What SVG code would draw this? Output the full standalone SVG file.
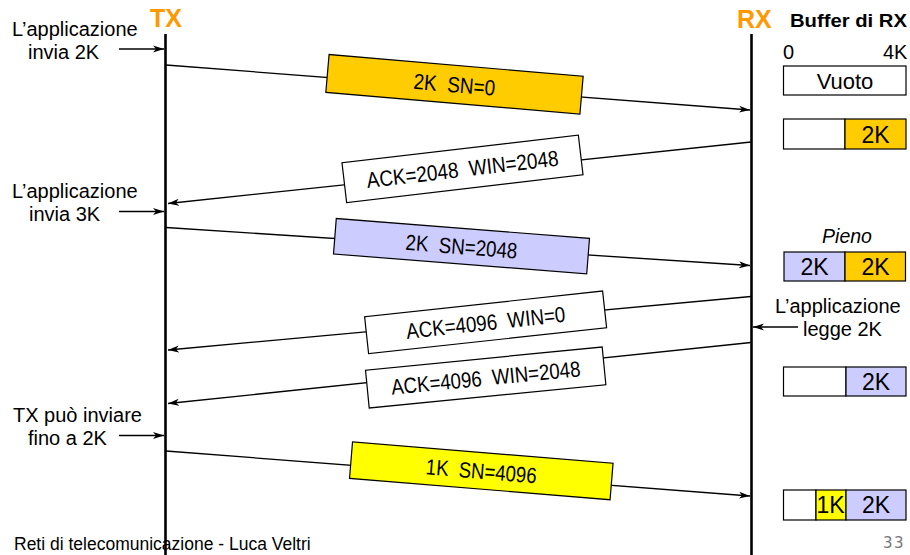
<svg xmlns="http://www.w3.org/2000/svg" width="910" height="555" viewBox="0 0 910 555">
  <style>
    .t { font-family: "Liberation Sans", Arial, sans-serif; fill: #000; }
    .lbl { font-size: 20px; }
    .pk { font-size: 22px; text-anchor: middle; white-space: pre; }
    .buf { font-size: 23px; text-anchor: middle; }
    .hd { font-family: "Liberation Sans", Arial, sans-serif; font-weight: bold; font-size: 25px; fill: #FF9900; }
    .msg { stroke: #000; stroke-width: 1.3; fill: none; marker-end: url(#ah); }
    .box { stroke: #000; stroke-width: 1.2; }
    .cell { stroke: #000; stroke-width: 1.2; }
    .life { stroke: #000; stroke-width: 2.6; }
  </style>
  <defs>
    <marker id="ah" markerUnits="userSpaceOnUse" markerWidth="12" markerHeight="8" refX="11" refY="4" orient="auto">
      <path d="M0,0.5 L11,4 L0,7.5 L3,4 z" fill="#000"/>
    </marker>
  </defs>
  <rect width="910" height="555" fill="#fff"/>

  <!-- lifelines -->
  <g id="tx">
    <line class="life" x1="165.5" y1="34" x2="165.5" y2="555"/>
    <text class="hd" x="150" y="27">TX</text>
  </g>
  <g id="rx">
    <line class="life" x1="751.5" y1="34" x2="751.5" y2="555"/>
    <text class="hd" x="737" y="28">RX</text>
    <text class="t" x="790" y="27" font-weight="bold" font-size="18" textLength="117" lengthAdjust="spacingAndGlyphs">Buffer di RX</text>
  </g>

  <!-- message connectors -->
  <g id="connectors">
    <line class="msg" x1="166" y1="65" x2="750" y2="110"/>
    <line class="msg" x1="751" y1="142" x2="168" y2="203.5"/>
    <line class="msg" x1="166" y1="227.5" x2="750" y2="265.5"/>
    <line class="msg" x1="751" y1="296.5" x2="168" y2="350"/>
    <line class="msg" x1="751" y1="342.5" x2="168" y2="403.5"/>
    <line class="msg" x1="166" y1="451" x2="750" y2="496"/>
    <!-- application events -->
    <line class="msg" x1="119" y1="49" x2="164" y2="49"/>
    <line class="msg" x1="119" y1="211.5" x2="164" y2="211.5"/>
    <line class="msg" x1="119" y1="435.5" x2="164" y2="435.5"/>
    <line class="msg" x1="798" y1="327" x2="753" y2="327"/>
  </g>

  <!-- segments in flight -->
  <g id="seg1" transform="translate(454.5,84.3) rotate(4.9)">
    <rect class="box" x="-127.5" y="-19" width="255" height="38" fill="#FFCC00"/>
    <text class="t pk" x="0" y="8" xml:space="preserve" textLength="82" lengthAdjust="spacingAndGlyphs">2K  SN=0</text>
  </g>
  <g id="ack1" transform="translate(462.5,168.8) rotate(-6.7)">
    <rect class="box" x="-119" y="-20" width="238" height="40" fill="#fff"/>
    <text class="t pk" x="0" y="8" xml:space="preserve" textLength="193" lengthAdjust="spacingAndGlyphs">ACK=2048  WIN=2048</text>
  </g>
  <g id="seg2" transform="translate(461.5,246.2) rotate(4.5)">
    <rect class="box" x="-127" y="-17.8" width="254" height="35.6" fill="#CCCCFF"/>
    <text class="t pk" x="0" y="8" xml:space="preserve" textLength="112" lengthAdjust="spacingAndGlyphs">2K  SN=2048</text>
  </g>
  <g id="ack2" transform="translate(485.6,322.3) rotate(-6.2)">
    <rect class="box" x="-119.7" y="-18.5" width="239.4" height="37" fill="#fff"/>
    <text class="t pk" x="0" y="8" xml:space="preserve" textLength="160" lengthAdjust="spacingAndGlyphs">ACK=4096  WIN=0</text>
  </g>
  <g id="ack3" transform="translate(485.7,377.5) rotate(-5.6)">
    <rect class="box" x="-118.9" y="-19" width="237.8" height="38" fill="#fff"/>
    <text class="t pk" x="0" y="8" xml:space="preserve" textLength="190" lengthAdjust="spacingAndGlyphs">ACK=4096  WIN=2048</text>
  </g>
  <g id="seg3" transform="translate(481.3,470.8) rotate(4.7)">
    <rect class="box" x="-130.7" y="-18.3" width="261.4" height="36.6" fill="#FFFF00"/>
    <text class="t pk" x="0" y="8" xml:space="preserve" textLength="111" lengthAdjust="spacingAndGlyphs">1K  SN=4096</text>
  </g>

  <!-- sender-side notes -->
  <g id="note-tx1">
    <text class="t lbl" x="12" y="36">L’applicazione</text>
    <text class="t lbl" x="28" y="59">invia 2K</text>
  </g>
  <g id="note-tx2">
    <text class="t lbl" x="12" y="198">L’applicazione</text>
    <text class="t lbl" x="29" y="221">invia 3K</text>
  </g>
  <g id="note-tx3">
    <text class="t lbl" x="13" y="422">TX può inviare</text>
    <text class="t lbl" x="28" y="445">fino a 2K</text>
  </g>
  <g id="note-rx">
    <text class="t lbl" x="775" y="313">L’applicazione</text>
    <text class="t lbl" x="803" y="336">legge 2K</text>
  </g>

  <!-- receive buffer states -->
  <g id="buf-scale">
    <text class="t" x="783" y="59" font-size="20">0</text>
    <text class="t" x="883" y="59" font-size="20">4K</text>
  </g>
  <g id="buf0">
    <rect class="cell" x="783.5" y="66" width="122.5" height="29" fill="#fff"/>
    <text class="t" x="845" y="89" font-size="22" text-anchor="middle">Vuoto</text>
  </g>
  <g id="buf1">
    <rect class="cell" x="783.5" y="119" width="61.5" height="30" fill="#fff"/>
    <rect class="cell" x="845" y="119" width="61" height="30" fill="#FFCC00"/>
    <text class="t buf" x="875.5" y="142.5">2K</text>
  </g>
  <g id="buf2">
    <text class="t" x="847" y="242.5" font-size="19.5" font-style="italic" text-anchor="middle">Pieno</text>
    <rect class="cell" x="784" y="252" width="61" height="29" fill="#CCCCFF"/>
    <rect class="cell" x="845" y="252" width="60.5" height="29" fill="#FFCC00"/>
    <text class="t buf" x="814.5" y="275">2K</text>
    <text class="t buf" x="875.5" y="275">2K</text>
  </g>
  <g id="buf3">
    <rect class="cell" x="783.5" y="367" width="62.5" height="29" fill="#fff"/>
    <rect class="cell" x="846" y="367" width="60" height="29" fill="#CCCCFF"/>
    <text class="t buf" x="876" y="390">2K</text>
  </g>
  <g id="buf4">
    <rect class="cell" x="783.5" y="490" width="32.5" height="30" fill="#fff"/>
    <rect class="cell" x="816" y="490" width="30" height="30" fill="#FFFF00"/>
    <rect class="cell" x="846" y="490" width="60" height="30" fill="#CCCCFF"/>
    <text class="t buf" x="830.5" y="513">1K</text>
    <text class="t buf" x="876" y="513">2K</text>
  </g>

  <!-- footer -->
  <text class="t" x="14" y="550" font-size="17.5">Reti di telecomunicazione - Luca Veltri</text>
  <text x="905" y="548" font-family="'DejaVu Sans', sans-serif" font-size="15" fill="#777" text-anchor="end" letter-spacing="1.5">33</text>
</svg>
